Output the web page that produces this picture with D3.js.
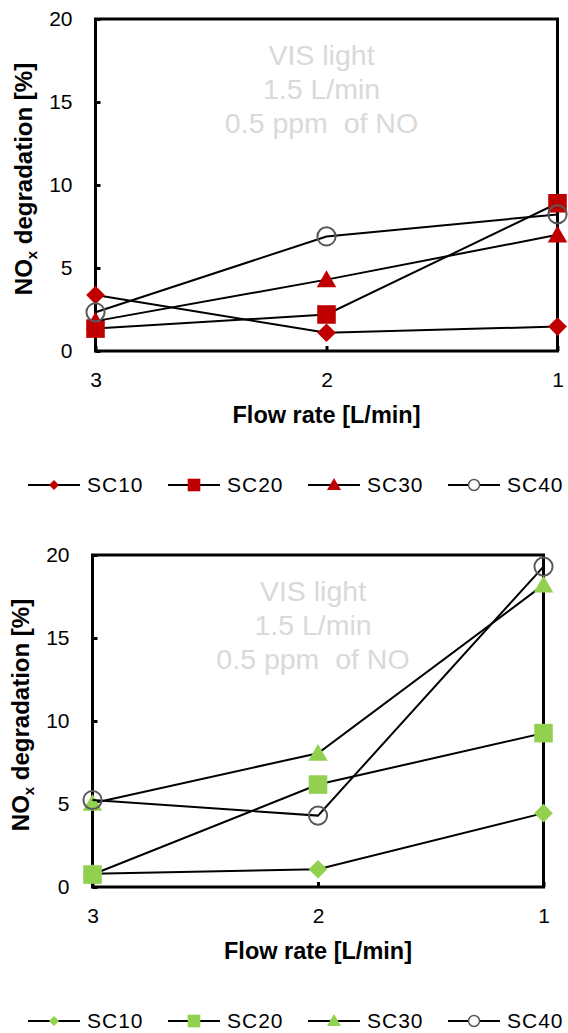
<!DOCTYPE html>
<html>
<head>
<meta charset="utf-8">
<script src="https://cdn.jsdelivr.net/npm/d3@7"></script>
<style>
  html, body { margin: 0; padding: 0; background: #fff; }
  svg { display: block; font-family: "Liberation Sans", Arial, sans-serif; }
</style>
</head>
<body>
<svg id="chart" width="568" height="1033"></svg>
<script>
// Flow rates on the x axis (L/min), drawn from 3 down to 1
const flowRates = [3, 2, 1];
const xTickLabels = ["3", "2", "1"];
const yTicks = [0, 5, 10, 15, 20];
const seriesNames = ["SC10", "SC20", "SC30", "SC40"];
const noteLines = ["VIS light", "1.5 L/min", "0.5 ppm  of NO"];

// NOx degradation [%], upper panel
const redSC10 = [3.37, 1.1, 1.47];
const redSC20 = [1.35, 2.2, 8.9];
const redSC30 = [1.8, 4.3, 7.0];
const redSC40 = [2.33, 6.9, 8.23];

// NOx degradation [%], lower panel
const greenSC10 = [0.8, 1.07, 4.45];
const greenSC20 = [0.75, 6.17, 9.27];
const greenSC30 = [5.05, 8.06, 18.2];
const greenSC40 = [5.24, 4.3, 19.3];

const svg = d3.select("#chart");
// diamond = square turned 45 degrees
const markerShapes = [d3.symbolSquare, d3.symbolSquare, d3.symbolTriangle, d3.symbolCircle];
const markerRotation = [45, 0, 0, 0];
const markerSizes = [175, 345, 165, 260];
const legendSizes = [50, 160, 85, 95];

function drawPanel(cfg) {
  const x = d3.scalePoint().domain(flowRates).range([cfg.left, cfg.right]);
  const y = d3.scaleLinear().domain([0, 20]).range([cfg.bottom, cfg.top]);
  const g = svg.append("g");

  // plot frame
  g.append("rect")
    .attr("x", cfg.left).attr("y", cfg.top)
    .attr("width", cfg.right - cfg.left).attr("height", cfg.bottom - cfg.top)
    .attr("fill", "none").attr("stroke", "#000").attr("stroke-width", 3);

  // y axis: inward ticks, labels on the left
  const yAxis = d3.axisLeft(y).tickValues(yTicks).tickSize(-5).tickPadding(23);
  const ya = g.append("g").attr("transform", `translate(${cfg.left},0)`).call(yAxis);
  ya.select(".domain").remove();
  ya.selectAll(".tick line").attr("stroke", "#000").attr("stroke-width", 3);
  ya.selectAll(".tick text").attr("font-size", 21).attr("fill", "#000")
    .attr("font-family", "Liberation Sans, Arial, sans-serif");

  // x axis: inward ticks, labels below
  const xAxis = d3.axisBottom(x).tickFormat((d, i) => xTickLabels[i]).tickSize(-5).tickPadding(21);
  const xa = g.append("g").attr("transform", `translate(0,${cfg.bottom})`).call(xAxis);
  xa.select(".domain").remove();
  xa.selectAll(".tick line").attr("stroke", "#000").attr("stroke-width", 3);
  xa.selectAll(".tick text").attr("font-size", 21).attr("fill", "#000")
    .attr("font-family", "Liberation Sans, Arial, sans-serif");

  // axis titles
  const yt = g.append("text")
    .attr("transform", `translate(${cfg.yTitleX},${(cfg.top + cfg.bottom) / 2 - 6}) rotate(-90)`)
    .attr("text-anchor", "middle").attr("font-size", 24).attr("font-weight", "bold");
  yt.append("tspan").text("NO");
  yt.append("tspan").text("x").attr("font-size", 15).attr("dy", 5);
  yt.append("tspan").text(" degradation [%]").attr("dy", -5);

  g.append("text")
    .attr("x", (cfg.left + cfg.right) / 2).attr("y", cfg.bottom + 72)
    .attr("text-anchor", "middle").attr("font-size", 23.5).attr("font-weight", "bold")
    .text("Flow rate [L/min]");

  // test conditions note
  g.append("g").selectAll("text").data(noteLines).join("text")
    .attr("x", (cfg.left + cfg.right) / 2 - 5)
    .attr("y", (d, i) => cfg.top + 46 + i * 34)
    .attr("text-anchor", "middle").attr("font-size", 28.5).attr("fill", "#d9d9d9")
    .attr("xml:space", "preserve")
    .text(d => d);

  // series: line then markers
  const line = d3.line().x((d, i) => x(flowRates[i])).y(d => y(d));
  cfg.series.forEach((vals, si) => {
    g.append("path").datum(vals).attr("d", line)
      .attr("fill", "none").attr("stroke", "#000").attr("stroke-width", 2);
    const isCircle = si === 3;
    g.append("g").selectAll("path").data(vals).join("path")
      .attr("transform", (d, i) =>
        `translate(${x(flowRates[i])},${y(d) + (si === 2 ? 2 : 0)}) rotate(${markerRotation[si]})`)
      .attr("d", d3.symbol().type(markerShapes[si]).size(markerSizes[si]))
      .attr("fill", isCircle ? "none" : cfg.color)
      .attr("stroke", isCircle ? "#595959" : "none")
      .attr("stroke-width", 2);
  });

  // legend
  const lg = g.append("g").attr("transform", `translate(0,${cfg.bottom + 134})`);
  seriesNames.forEach((name, si) => {
    const x0 = 28 + si * 140;
    lg.append("line").attr("x1", x0).attr("x2", x0 + 52).attr("y1", 0).attr("y2", 0)
      .attr("stroke", "#000").attr("stroke-width", 2);
    lg.append("path")
      .attr("transform", `translate(${x0 + 26},${si === 2 ? 1 : 0}) rotate(${markerRotation[si]})`)
      .attr("d", d3.symbol().type(markerShapes[si]).size(legendSizes[si]))
      .attr("fill", si === 3 ? "#fff" : cfg.color)
      .attr("stroke", si === 3 ? "#595959" : "none").attr("stroke-width", 1.5);
    lg.append("text").attr("x", x0 + 59).attr("y", 0).attr("dy", "0.35em")
      .attr("font-size", 21).attr("letter-spacing", 1).text(name);
  });
}

drawPanel({ left: 95.5, right: 557.5, top: 19, bottom: 351, yTitleX: 32, color: "#C00000",
  series: [redSC10, redSC20, redSC30, redSC40] });
drawPanel({ left: 92.5, right: 543.5, top: 555, bottom: 887, yTitleX: 29, color: "#92D050",
  series: [greenSC10, greenSC20, greenSC30, greenSC40] });
</script>
</body>
</html>
